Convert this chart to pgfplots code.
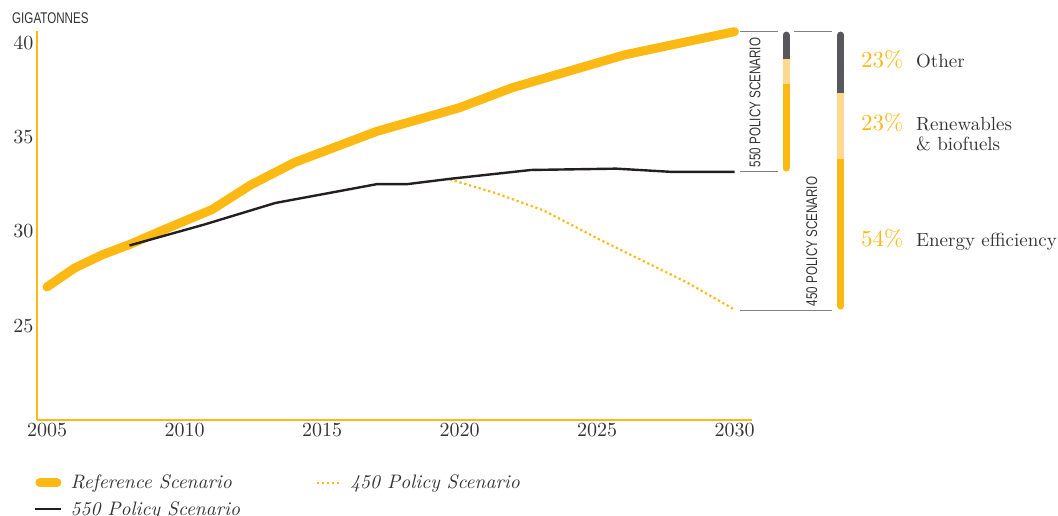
\documentclass[border=0pt]{standalone}
\usepackage{fontspec}
\usepackage{pgfplots}
\pgfplotsset{compat=1.18}
\setmainfont{lmroman10-regular.otf}[ItalicFont=lmroman10-italic.otf, BoldFont=lmroman10-bold.otf]
\newfontfamily\condfont[FakeStretch=0.75]{Liberation Sans}
\definecolor{gold}{HTML}{FDB913}
\definecolor{lightgold}{HTML}{FED98E}
\definecolor{darkbar}{HTML}{58585A}
\definecolor{ink}{HTML}{231F20}
\definecolor{bracket}{HTML}{808080}
\definecolor{txt}{HTML}{333333}
\begin{document}
\begin{tikzpicture}
\begin{axis}[
 x=27.5pt, y=18.87pt,
 xmin=2004.636, xmax=2030.63, ymin=20, ymax=40.6,
 axis x line*=bottom, axis y line*=left,
 axis line style={gold, line width=1.4pt, -},
 xtick={2005,2010,...,2030}, ytick={25,30,35,40},
 major tick length=0pt,
 tick label style={font=\fontsize{20}{24}\selectfont, text=txt},
 /pgf/number format/assume math mode=true,
 /pgf/number format/1000 sep={},
 clip=false,
 legend columns=2,
 legend cell align=left,
 legend style={draw=none, fill=none, at={(0,0)}, anchor=north west,
   yshift=-51pt, xshift=-6pt, row sep=7pt,
   font=\itshape\fontsize{19.5}{23}\selectfont, text=txt,
   /tikz/every odd column/.append style={column sep=6pt},
   /tikz/every even column/.append style={column sep=74pt}},
]
% Reference Scenario
\addplot[gold, line width=9pt, line cap=round, line join=round,
  legend image code/.code={\draw[gold,line width=9pt,line cap=round] (4.5pt,0pt) -- (21.5pt,0pt);}]
coordinates {(2005,27.05) (2006,28.05) (2007,28.75) (2008,29.3) (2009.6,30.3) (2011,31.15)
 (2012.4,32.45) (2014,33.65) (2017,35.3) (2020,36.55) (2021.9,37.6) (2022.6,37.9)
 (2026,39.35) (2030,40.58)};
\addlegendentry{Reference Scenario}
% 450 Policy Scenario
\addplot[gold, line width=2.2pt, dash pattern=on 2.2pt off 2.8pt, line join=round,
  legend image code/.code={\draw[gold,line width=2.2pt,dash pattern=on 2.2pt off 2.8pt] (0pt,0pt) -- (24pt,0pt);}]
coordinates {(2019.65,32.75) (2021.3,32.03) (2023.05,31.11) (2025.1,29.56) (2028.3,27.27) (2030,25.85)};
\addlegendentry{450 Policy Scenario}
% 550 Policy Scenario
\addplot[ink, line width=2.4pt, line join=round,
  legend image code/.code={\draw[ink,line width=2.4pt] (0pt,0pt) -- (26pt,0pt);}]
coordinates {(2008,29.25) (2010.7,30.35) (2013.3,31.5) (2017,32.5) (2018.1,32.5) (2019.65,32.78)
 (2022.6,33.25) (2025.7,33.32) (2027.7,33.15) (2030,33.15)};
\addlegendentry{550 Policy Scenario}
% bracket lines
\addplot[bracket, line width=1.4pt, forget plot] coordinates {(2030.2,40.583) (2031.58,40.583)};
\addplot[bracket, line width=1.4pt, forget plot] coordinates {(2030.2,33.164) (2031.58,33.164)};
\addplot[bracket, line width=1.4pt, forget plot] coordinates {(2032.164,40.583) (2033.545,40.583)};
\addplot[bracket, line width=1.4pt, forget plot] coordinates {(2030.2,25.813) (2033.545,25.813)};
% 550 stacked bar
\addplot[darkbar, line width=7pt, line cap=round, forget plot] coordinates {(2031.873,40.397) (2031.873,39.136)};
\addplot[gold, line width=7pt, line cap=round, forget plot] coordinates {(2031.873,37.827) (2031.873,33.35)};
\addplot[lightgold, line width=7pt, forget plot] coordinates {(2031.873,39.136) (2031.873,37.827)};
% 450 stacked bar
\addplot[darkbar, line width=7pt, line cap=round, forget plot] coordinates {(2033.862,40.397) (2033.862,37.334)};
\addplot[gold, line width=7pt, line cap=round, forget plot] coordinates {(2033.862,33.853) (2033.862,26.036)};
\addplot[lightgold, line width=7pt, forget plot] coordinates {(2033.862,37.334) (2033.862,33.853)};
\end{axis}
\node[anchor=base west, inner sep=0, text=txt, font=\condfont\fontsize{15.5}{18}\selectfont] at (-25pt,396pt) {GIGATONNES};
\node[rotate=90, inner sep=0, text=txt, font=\condfont\fontsize{15.5}{18}\selectfont] at (718pt,317.5pt) {550 POLICY SCENARIO};
\node[rotate=90, inner sep=0, text=txt, font=\condfont\fontsize{15.5}{18}\selectfont] at (774.7pt,178.5pt) {450 POLICY SCENARIO};
\node[anchor=base west, inner sep=0, text=gold, font=\fontsize{23}{26}\selectfont] at (824pt,352pt) {23\%};
\node[anchor=base west, inner sep=0, text=txt, font=\fontsize{19}{22}\selectfont] at (879pt,352pt) {Other};
\node[anchor=base west, inner sep=0, text=gold, font=\fontsize{23}{26}\selectfont] at (824pt,289pt) {23\%};
\node[anchor=base west, inner sep=0, text=txt, font=\fontsize{19}{22}\selectfont] at (879pt,289pt) {Renewables};
\node[anchor=base west, inner sep=0, text=txt, font=\fontsize{19}{22}\selectfont] at (879pt,269pt) {\& biofuels};
\node[anchor=base west, inner sep=0, text=gold, font=\fontsize{23}{26}\selectfont] at (824pt,173pt) {54\%};
\node[anchor=base west, inner sep=0, text=txt, font=\fontsize{19}{22}\selectfont] at (879pt,173pt) {Energy efficiency};
\pgfresetboundingbox
\useasboundingbox (-37pt,-96pt) rectangle (1021pt,420pt);
\end{tikzpicture}
\end{document}
